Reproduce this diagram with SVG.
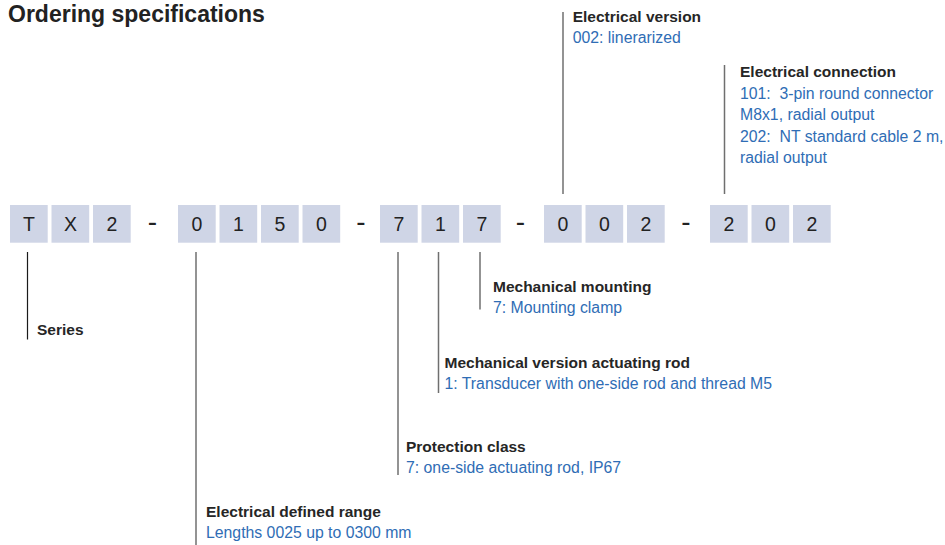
<svg xmlns="http://www.w3.org/2000/svg" width="945" height="545" viewBox="0 0 945 545">
<style>
text{font-family:"Liberation Sans",Arial,Helvetica,sans-serif}
.title{font-size:23px;font-weight:bold;fill:#222}
.box{fill:#cfd5e6}
.ch{font-size:19.5px;fill:#222;text-anchor:middle}
.dash{font-size:28px;fill:#222;text-anchor:middle}
.h{font-size:15.5px;font-weight:bold;fill:#262626}
.v{font-size:15.8px;fill:#2f6db5;white-space:pre}
.ln{stroke:#6f6f6f;stroke-width:1.5;fill:none}
.ln0{stroke:#1a1a1a;stroke-width:1.2;fill:none}
</style>
<text class="title" x="8" y="22">Ordering specifications</text>

<g id="code">
  <g id="series-code">
    <rect class="box" x="10" y="205" width="37.7" height="37.7"/><text class="ch" x="28.9" y="231">T</text>
    <rect class="box" x="51.5" y="205" width="37.7" height="37.7"/><text class="ch" x="70.4" y="231">X</text>
    <rect class="box" x="93" y="205" width="37.7" height="37.7"/><text class="ch" x="111.9" y="231">2</text>
  </g>
  <text class="dash" x="152.5" y="230.5">-</text>
  <g id="range-code">
    <rect class="box" x="178" y="205" width="37.7" height="37.7"/><text class="ch" x="196.9" y="231">0</text>
    <rect class="box" x="219.5" y="205" width="37.7" height="37.7"/><text class="ch" x="238.4" y="231">1</text>
    <rect class="box" x="261" y="205" width="37.7" height="37.7"/><text class="ch" x="279.9" y="231">5</text>
    <rect class="box" x="302.5" y="205" width="37.7" height="37.7"/><text class="ch" x="321.4" y="231">0</text>
  </g>
  <text class="dash" x="361" y="230.5">-</text>
  <g id="mech-code">
    <rect class="box" x="380" y="205" width="37.7" height="37.7"/><text class="ch" x="398.9" y="231">7</text>
    <rect class="box" x="421.5" y="205" width="37.7" height="37.7"/><text class="ch" x="440.4" y="231">1</text>
    <rect class="box" x="463" y="205" width="37.7" height="37.7"/><text class="ch" x="481.9" y="231">7</text>
  </g>
  <text class="dash" x="520.5" y="230.5">-</text>
  <g id="elver-code">
    <rect class="box" x="544" y="205" width="37.7" height="37.7"/><text class="ch" x="562.9" y="231">0</text>
    <rect class="box" x="585.5" y="205" width="37.7" height="37.7"/><text class="ch" x="604.4" y="231">0</text>
    <rect class="box" x="627" y="205" width="37.7" height="37.7"/><text class="ch" x="645.9" y="231">2</text>
  </g>
  <text class="dash" x="686" y="230.5">-</text>
  <g id="conn-code">
    <rect class="box" x="710" y="205" width="37.7" height="37.7"/><text class="ch" x="728.9" y="231">2</text>
    <rect class="box" x="751.5" y="205" width="37.7" height="37.7"/><text class="ch" x="770.4" y="231">0</text>
    <rect class="box" x="793" y="205" width="37.7" height="37.7"/><text class="ch" x="811.9" y="231">2</text>
  </g>
</g>

<g id="connectors">
  <line class="ln0" x1="27.5" y1="252" x2="27.5" y2="339.5"/>
  <line class="ln" x1="196" y1="252" x2="196" y2="545"/>
  <line class="ln" x1="398" y1="252" x2="398" y2="475"/>
  <line class="ln" x1="438.5" y1="252" x2="438.5" y2="393"/>
  <line class="ln" x1="480" y1="252" x2="480" y2="309.5"/>
  <line class="ln" x1="563" y1="12" x2="563" y2="194"/>
  <line class="ln" x1="724.5" y1="65" x2="724.5" y2="194"/>
</g>

<g id="series">
  <text class="h" x="37" y="335">Series</text>
</g>
<g id="electrical-defined-range">
  <text class="h" x="206" y="517.3">Electrical defined range</text>
  <text class="v" x="206" y="538.3">Lengths 0025 up to 0300 mm</text>
</g>
<g id="protection-class">
  <text class="h" x="406" y="451.7">Protection class</text>
  <text class="v" x="406" y="472.7">7: one-side actuating rod, IP67</text>
</g>
<g id="mechanical-version">
  <text class="h" x="444.5" y="368">Mechanical version actuating rod</text>
  <text class="v" x="444.5" y="389">1: Transducer with one-side rod and thread M5</text>
</g>
<g id="mechanical-mounting">
  <text class="h" x="493" y="291.7">Mechanical mounting</text>
  <text class="v" x="493" y="313">7: Mounting clamp</text>
</g>
<g id="electrical-version">
  <text class="h" x="572.7" y="22">Electrical version</text>
  <text class="v" x="572.7" y="43.3">002: linerarized</text>
</g>
<g id="electrical-connection">
  <text class="h" x="740" y="76.7">Electrical connection</text>
  <text class="v" x="740" y="99">101:  3-pin round connector</text>
  <text class="v" x="740" y="120.3">M8x1, radial output</text>
  <text class="v" x="740" y="141.7">202:  NT standard cable 2 m,</text>
  <text class="v" x="740" y="163">radial output</text>
</g>
</svg>
